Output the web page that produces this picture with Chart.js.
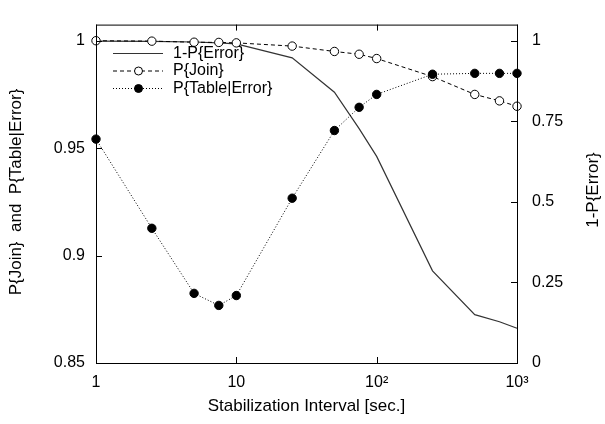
<!DOCTYPE html>
<html>
<head>
<meta charset="utf-8">
<script src="https://cdn.jsdelivr.net/npm/chart.js@4.4.1/dist/chart.umd.min.js"></script>
<style>
  html, body { margin: 0; padding: 0; background: #fff; }
  #wrap { width: 605px; height: 424px; }
</style>
</head>
<body>
<div id="wrap"><canvas id="c" width="605" height="424"></canvas></div>
<script>
// stabilization interval [sec.]
const intervals = [1, 2.5, 5, 7.5, 10, 25, 50, 75, 100, 250, 500, 750, 1000]
// 1-P{Error}, right axis
const notError = [0.999, 0.998, 0.996, 0.993, 0.990, 0.947, 0.840, 0.727, 0.641, 0.286, 0.150, 0.128, 0.108]
// P{Join}, left axis
const pJoin = [1.0, 0.9998, 0.9993, 0.9992, 0.999, 0.9975, 0.995, 0.9937, 0.9917, 0.9833, 0.975, 0.972, 0.9695]
// P{Table|Error}, left axis
const pTable = [0.9542, 0.9127, 0.8824, 0.8768, 0.8814, 0.9267, 0.9582, 0.969, 0.975, 0.9844, 0.9848, 0.9848, 0.9848]

const xTicks = [1, 10, 100, 1000]
const xTickLabels = ['1', '10', '10²', '10³']
const leftTicks = [0.85, 0.9, 0.95, 1]
const rightTicks = [0, 0.25, 0.5, 0.75, 1]

const FONT = "'Liberation Sans', Arial, Helvetica, sans-serif"

const pts = (ys) => intervals.map((x, i) => ({ x: x, y: ys[i] }))

const frame = {
  id: 'frame',
  afterDraw(chart) {
    const ctx = chart.ctx
    const a = chart.chartArea
    const sx = chart.scales.x, sl = chart.scales.y, sr = chart.scales.y1
    const tl = 6
    ctx.save()
    ctx.strokeStyle = '#000'
    ctx.lineWidth = 1
    ctx.setLineDash([])
    ctx.strokeRect(a.left + 0.5, a.top + 0.5, a.right - a.left, a.bottom - a.top)
    ctx.beginPath()
    xTicks.forEach(v => {
      const px = Math.round(sx.getPixelForValue(v)) + 0.5
      ctx.moveTo(px, a.bottom); ctx.lineTo(px, a.bottom - tl)
      ctx.moveTo(px, a.top); ctx.lineTo(px, a.top + tl)
    })
    leftTicks.forEach(v => {
      const py = Math.round(sl.getPixelForValue(v)) + 0.5
      ctx.moveTo(a.left, py); ctx.lineTo(a.left + tl, py)
    })
    rightTicks.forEach(v => {
      const py = Math.round(sr.getPixelForValue(v)) + 0.5
      ctx.moveTo(a.right, py); ctx.lineTo(a.right - tl, py)
    })
    ctx.stroke()

    // axis titles
    ctx.fillStyle = '#000'
    ctx.font = '17px ' + FONT
    ctx.textAlign = 'center'
    ctx.textBaseline = 'middle'
    ctx.fillText('Stabilization Interval [sec.]', (a.left + a.right) / 2, 406)
    ctx.save()
    ctx.translate(16, 192)
    ctx.rotate(-Math.PI / 2)
    ctx.fillText('P{Join}  and  P{Table|Error}', 0, 0)
    ctx.restore()
    ctx.save()
    ctx.translate(593, 190)
    ctx.rotate(-Math.PI / 2)
    ctx.fillText('1-P{Error}', 0, 0)
    ctx.restore()

    // legend
    const rows = [
      { label: '1-P{Error}', dash: [], marker: null },
      { label: 'P{Join}', dash: [4, 3], marker: 'open' },
      { label: 'P{Table|Error}', dash: [1, 2], marker: 'filled' }
    ]
    ctx.font = '16px ' + FONT
    ctx.textAlign = 'left'
    rows.forEach((r, i) => {
      const y = 53.5 + i * 17.5
      ctx.beginPath()
      ctx.setLineDash(r.dash)
      ctx.strokeStyle = i === 0 ? '#333' : '#000'
      ctx.moveTo(113, y); ctx.lineTo(163, y)
      ctx.stroke()
      ctx.setLineDash([])
      if (r.marker) {
        ctx.beginPath()
        ctx.arc(138.5, y, 4, 0, Math.PI * 2)
        ctx.fillStyle = r.marker === 'open' ? '#fff' : '#000'
        ctx.fill()
        ctx.strokeStyle = '#000'
        ctx.stroke()
      }
      ctx.fillStyle = '#000'
      ctx.fillText(r.label, 173, y)
    })
    ctx.restore()
  }
}

new Chart(document.getElementById('c'), {
  type: 'line',
  data: {
    datasets: [
      {
        label: 'P{Table|Error}',
        data: pts(pTable),
        yAxisID: 'y',
        borderColor: '#000',
        borderWidth: 1,
        borderDash: [1, 2],
        pointRadius: 4.2,
        pointBackgroundColor: '#000',
        pointBorderColor: '#000',
        pointBorderWidth: 1,
        fill: false,
        tension: 0,
        clip: false
      },
      {
        label: 'P{Join}',
        data: pts(pJoin),
        yAxisID: 'y',
        borderColor: '#000',
        borderWidth: 1,
        borderDash: [4, 3],
        pointRadius: 4.2,
        pointBackgroundColor: '#fff',
        pointBorderColor: '#000',
        pointBorderWidth: 1,
        fill: false,
        tension: 0,
        clip: false
      },
      {
        label: '1-P{Error}',
        data: pts(notError),
        yAxisID: 'y1',
        borderColor: '#333',
        borderWidth: 1.2,
        pointRadius: 0,
        fill: false,
        tension: 0,
        clip: false
      }
    ]
  },
  options: {
    responsive: false,
    animation: false,
    events: [],
    layout: { padding: { top: 3, left: 0, right: 0, bottom: 0 } },
    plugins: { legend: { display: false }, tooltip: { enabled: false } },
    scales: {
      x: {
        type: 'logarithmic',
        min: 1,
        max: 1000,
        grid: { display: false, drawTicks: false },
        border: { display: false },
        afterBuildTicks: s => { s.ticks = xTicks.map(v => ({ value: v })) },
        afterFit: s => { s.height = 61 },
        ticks: {
          autoSkip: false,
          maxRotation: 0,
          padding: 10,
          color: '#000',
          font: { family: FONT, size: 16 },
          callback: (v) => xTickLabels[xTicks.indexOf(v)]
        }
      },
      y: {
        position: 'left',
        min: 0.85,
        max: 1.0075,
        grid: { display: false, drawTicks: false },
        border: { display: false },
        afterBuildTicks: s => { s.ticks = leftTicks.map(v => ({ value: v })) },
        afterFit: s => { s.width = 96 },
        ticks: {
          padding: 11,
          color: '#000',
          font: { family: FONT, size: 16 },
          callback: v => String(v)
        }
      },
      y1: {
        position: 'right',
        min: 0,
        max: 1.05,
        grid: { display: false, drawTicks: false },
        border: { display: false },
        afterBuildTicks: s => { s.ticks = rightTicks.map(v => ({ value: v })) },
        afterFit: s => { s.width = 88 },
        ticks: {
          padding: 15,
          color: '#000',
          font: { family: FONT, size: 16 },
          callback: v => String(v)
        }
      }
    }
  },
  plugins: [frame]
})
</script>
</body>
</html>
